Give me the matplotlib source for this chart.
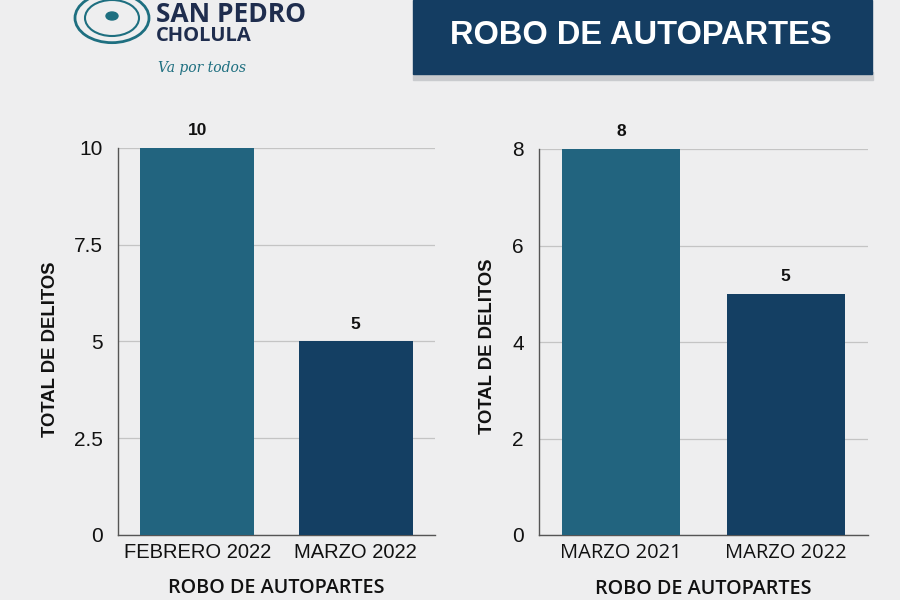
import matplotlib
matplotlib.use('Agg')
import matplotlib.pyplot as plt
from matplotlib.patches import Rectangle, Circle

# datos
cats_izq = ['FEBRERO 2022', 'MARZO 2022']
vals_izq = [10, 5]
ticks_izq = [0, 2.5, 5, 7.5, 10]

cats_der = ['MARZO 2021', 'MARZO 2022']
vals_der = [8, 5]
ticks_der = [0, 2, 4, 6, 8]

titulo = 'ROBO DE AUTOPARTES'
xlabel = 'ROBO DE AUTOPARTES'
ylabel = 'TOTAL DE DELITOS'

col_bar = ['#22647f', '#143f63']
navy = '#143d62'

fig = plt.figure(figsize=(9, 6), dpi=100)
fig.patch.set_facecolor('#eeeeef')

# banner del titulo
fig.patches.append(Rectangle((413/900, 1 - 80/600), 460/900, 8/600, transform=fig.transFigure,
                             color='#c9cbce', zorder=0))
fig.patches.append(Rectangle((413/900, 1 - 74/600), 459/900, 74/600, transform=fig.transFigure,
                             color=navy, zorder=1))
fig.text(641/900, 1 - 35/600, titulo, color='white', fontsize=23.5, fontweight='bold',
         family='Liberation Sans', ha='center', va='center')

# logo
for r, lw in [(37, 2.0), (27, 1.5)]:
    fig.patches.append(Circle((112/900, 1 - 18/600), r/900, transform=fig.transFigure,
                              fill=False, ec='#1e6f80', lw=lw))
fig.patches.append(Circle((112/900, 1 - 16/600), 6/900, transform=fig.transFigure,
                          color='#1e6f80'))
fig.text(156/900, 1 - 14/600, 'SAN PEDRO', color='#1f2d4e', fontsize=19, fontweight='bold',
         family='Open Sans', va='center')
fig.text(156/900, 1 - 36/600, 'CHOLULA', color='#1f2d4e', fontsize=14.5, fontweight='bold',
         family='Open Sans', va='center')
fig.text(158/900, 1 - 68/600, 'Va por todos', color='#1e6f80', fontsize=10, style='italic',
         family='DejaVu Serif', va='center')


def panel(pos, cats, vals, ticks, tickfont):
    ax = fig.add_axes(pos)
    ax.set_facecolor('none')
    x = range(len(cats))
    ax.bar(x, vals, width=0.72, color=col_bar, zorder=3)
    ax.set_xlim(-0.5, 1.5)
    ax.set_ylim(0, ticks[-1])
    ax.set_yticks(ticks)
    ax.set_yticklabels([f'{t:g}' for t in ticks])
    ax.set_xticks(list(x))
    ax.set_xticklabels(cats)
    ax.grid(axis='y', color='#c4c4c4', lw=0.9, zorder=0)
    for s in ['top', 'right']:
        ax.spines[s].set_visible(False)
    for s in ['left', 'bottom']:
        ax.spines[s].set_color('#555555')
        ax.spines[s].set_linewidth(1.0)
    ax.tick_params(length=0, colors='#111111')
    ax.tick_params(axis='y', pad=11, labelsize=15)
    ax.tick_params(axis='x', pad=6, labelsize=14.5)
    for lab in ax.get_xticklabels():
        lab.set_family(tickfont)
    for lab in ax.get_yticklabels():
        lab.set_family('Liberation Sans')
    ax.set_xlabel(xlabel, fontsize=14.2, family='Open Sans', fontweight='semibold',
                  color='#111111', labelpad=11)
    ax.set_ylabel(ylabel, fontsize=13.3, family='Liberation Sans', fontweight='bold', color='#111111')
    for i, v in zip(x, vals):
        ax.text(i, v + ticks[-1] * 0.025, str(v), ha='center', va='bottom', fontsize=12.5,
                fontweight='bold', family='Liberation Sans', color='#111111')
    return ax


ax1 = panel([118/900, 65/600, 317/900, 387/600], cats_izq, vals_izq, ticks_izq, 'Liberation Sans')
ax1.yaxis.set_label_coords(-0.185, 0.48)
ax2 = panel([539/900, 65/600, 329/900, 386/600], cats_der, vals_der, ticks_der, 'Open Sans')
ax2.yaxis.set_label_coords(-0.13, 0.49)

fig.savefig('out.png', dpi=100, facecolor=fig.get_facecolor())
